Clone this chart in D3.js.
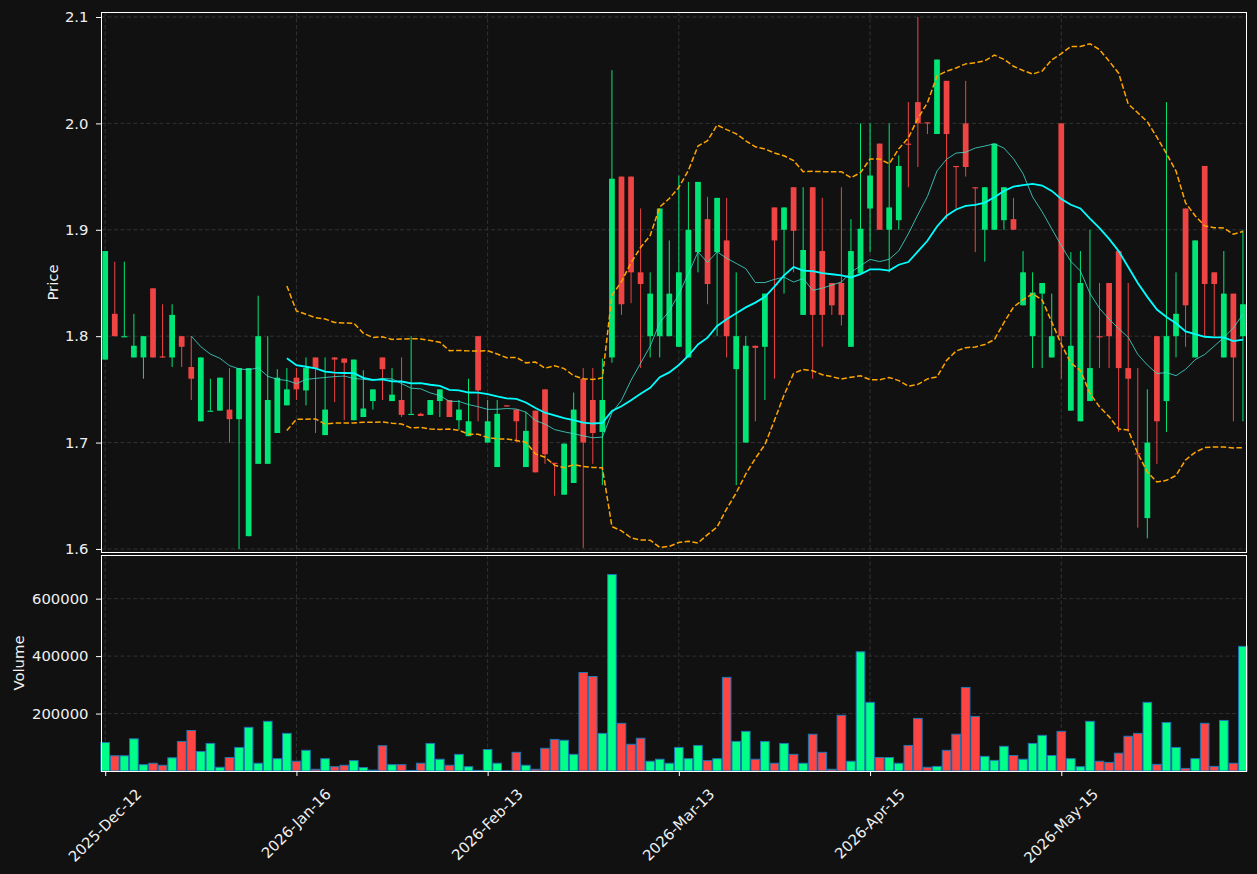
<!DOCTYPE html>
<html>
<head>
<meta charset="utf-8">
<script src="https://cdn.jsdelivr.net/npm/d3@7"></script>
<style>
  html, body { margin: 0; padding: 0; background: #111111; }
  svg { display: block; font-family: "DejaVu Sans", sans-serif; }
</style>
</head>
<body>
<svg id="chart" width="1257" height="874"></svg>
<script>
// ---- data -----------------------------------------------------------
const tickIdx    = [0, 20, 40, 60, 80, 100];
const tickLabels = ['2025-Dec-12', '2026-Jan-16', '2026-Feb-13', '2026-Mar-13', '2026-Apr-15', '2026-May-15'];

const opens = [
  1.778, 1.821, 1.800, 1.780, 1.780, 1.845, 1.781, 1.780, 1.800, 1.771,
  1.720, 1.730, 1.730, 1.731, 1.722, 1.612, 1.680, 1.680, 1.709, 1.735,
  1.761, 1.749, 1.780, 1.707, 1.780, 1.779, 1.721, 1.724, 1.739, 1.780,
  1.739, 1.740, 1.727, 1.727, 1.726, 1.739, 1.740, 1.721, 1.706, 1.800,
  1.700, 1.677, 1.735, 1.731, 1.677, 1.730, 1.750, 1.681, 1.651, 1.662,
  1.760, 1.740, 1.710, 1.780, 1.950, 1.950, 1.860, 1.800, 1.800, 1.800,
  1.790, 1.780, 1.879, 1.910, 1.879, 1.890, 1.769, 1.700, 1.791, 1.790,
  1.921, 1.900, 1.940, 1.820, 1.940, 1.880, 1.850, 1.850, 1.790, 1.859,
  1.920, 1.981, 1.900, 1.909, 1.981, 2.020, 2.001, 1.990, 2.040, 1.960,
  2.000, 1.940, 1.900, 1.900, 1.909, 1.910, 1.829, 1.800, 1.840, 1.780,
  2.000, 1.730, 1.720, 1.739, 1.800, 1.850, 1.880, 1.770, 1.690, 1.629,
  1.800, 1.739, 1.800, 1.920, 1.780, 1.960, 1.860, 1.780, 1.840, 1.800
];
const highs = [
  1.880, 1.870, 1.870, 1.821, 1.800, 1.845, 1.830, 1.830, 1.800, 1.800,
  1.780, 1.760, 1.761, 1.770, 1.770, 1.770, 1.838, 1.800, 1.769, 1.770,
  1.770, 1.780, 1.780, 1.780, 1.780, 1.779, 1.778, 1.768, 1.750, 1.780,
  1.770, 1.780, 1.800, 1.728, 1.740, 1.750, 1.740, 1.740, 1.760, 1.800,
  1.740, 1.740, 1.735, 1.731, 1.729, 1.730, 1.750, 1.681, 1.699, 1.747,
  1.770, 1.770, 1.779, 2.050, 1.950, 1.950, 1.920, 1.860, 1.920, 1.890,
  1.951, 1.945, 1.945, 1.931, 1.930, 1.930, 1.860, 1.800, 1.791, 1.840,
  1.921, 1.921, 1.940, 1.940, 1.940, 1.930, 1.850, 1.940, 1.910, 2.000,
  2.000, 1.981, 2.000, 1.970, 2.020, 2.100, 2.001, 2.060, 2.040, 1.960,
  2.040, 1.940, 1.940, 1.981, 1.940, 1.930, 1.880, 1.860, 1.850, 1.840,
  2.000, 1.879, 1.880, 1.900, 1.850, 1.850, 1.880, 1.850, 1.770, 1.750,
  1.800, 2.020, 1.860, 1.920, 1.890, 1.960, 1.860, 1.880, 1.840, 1.900
];
const lows = [
  1.778, 1.800, 1.800, 1.780, 1.760, 1.780, 1.780, 1.771, 1.771, 1.740,
  1.720, 1.730, 1.730, 1.700, 1.600, 1.612, 1.680, 1.680, 1.709, 1.735,
  1.740, 1.735, 1.709, 1.707, 1.738, 1.721, 1.721, 1.724, 1.731, 1.740,
  1.739, 1.724, 1.727, 1.725, 1.726, 1.724, 1.724, 1.712, 1.706, 1.720,
  1.700, 1.677, 1.734, 1.700, 1.677, 1.672, 1.680, 1.650, 1.651, 1.662,
  1.601, 1.680, 1.660, 1.775, 1.820, 1.831, 1.770, 1.780, 1.780, 1.800,
  1.790, 1.780, 1.860, 1.830, 1.800, 1.780, 1.660, 1.700, 1.720, 1.740,
  1.760, 1.840, 1.860, 1.820, 1.760, 1.790, 1.820, 1.810, 1.790, 1.859,
  1.879, 1.900, 1.860, 1.900, 1.940, 1.959, 1.990, 1.990, 1.910, 1.920,
  1.950, 1.879, 1.870, 1.900, 1.900, 1.900, 1.829, 1.770, 1.770, 1.780,
  1.760, 1.730, 1.720, 1.739, 1.770, 1.770, 1.710, 1.710, 1.620, 1.610,
  1.680, 1.710, 1.780, 1.790, 1.780, 1.800, 1.800, 1.780, 1.720, 1.720
];
const closes = [
  1.880, 1.800, 1.800, 1.791, 1.800, 1.780, 1.780, 1.820, 1.790, 1.760,
  1.780, 1.730, 1.761, 1.722, 1.770, 1.770, 1.800, 1.740, 1.761, 1.750,
  1.750, 1.770, 1.770, 1.731, 1.778, 1.775, 1.778, 1.732, 1.750, 1.769,
  1.745, 1.726, 1.727, 1.725, 1.740, 1.750, 1.724, 1.731, 1.720, 1.749,
  1.720, 1.727, 1.734, 1.720, 1.711, 1.672, 1.689, 1.680, 1.699, 1.731,
  1.700, 1.709, 1.740, 1.948, 1.830, 1.860, 1.849, 1.840, 1.920, 1.840,
  1.860, 1.900, 1.945, 1.849, 1.930, 1.800, 1.800, 1.791, 1.789, 1.840,
  1.890, 1.921, 1.899, 1.881, 1.820, 1.820, 1.829, 1.820, 1.880, 1.901,
  1.951, 1.900, 1.921, 1.960, 1.980, 2.000, 2.000, 2.060, 1.990, 1.959,
  1.959, 1.939, 1.940, 1.981, 1.940, 1.900, 1.860, 1.841, 1.850, 1.800,
  1.800, 1.791, 1.850, 1.770, 1.799, 1.800, 1.770, 1.760, 1.689, 1.700,
  1.720, 1.800, 1.821, 1.829, 1.890, 1.849, 1.849, 1.840, 1.780, 1.830
];
const volumes = [
   99000,  53000,  53000, 112000,  22000,  27000,  20000,  46000, 103000, 141000,
   68000,  96000,  13000,  47000,  82000, 152000,  27000, 173000,  43000, 131000,
   34000,  72000,   6000,  43000,  15000,  20000,  36000,  12000,   3000,  88000,
   22000,  22000,   2000,  27000,  96000,  41000,  20000,  58000,  15000,   2000,
   75000,  27000,   1000,  65000,  20000,   6000,  79000, 110000, 107000,  58000,
  343000, 329000, 131000, 684000, 166000,  93000, 114000,  34000,  41000,  27000,
   82000,  43000,  89000,  36000,  43000, 326000, 103000, 138000,  41000, 103000,
   27000,  96000,  58000,  27000, 128000,  65000,   6000, 194000,  34000, 415000,
  239000,  47000,  47000,  27000,  89000, 183000,  13000,  16000,  72000, 128000,
  291000, 190000,  51000,  37000,  86000,  54000,  41000,  96000, 124000,  54000,
  138000,  43000,  15000, 173000,  34000,  30000,  62000, 121000, 131000, 239000,
   23000, 169000,  82000,   9000,  43000, 166000,  16000, 176000,  27000, 434000
];

// ---- layout ----------------------------------------------------------
const W = 1257, H = 874;
const plotL = 101, plotR = 1246;
const priceTop = 12, priceBot = 553;
const volTop = 555, volBot = 771;
const FS = 14.8;

const UP = '#00e676', DOWN = '#ef4444';
const VOL_UP = '#00ff88', VOL_DOWN = '#ff4444';
const GRID = '#3a3a3a';
const TEXT = '#f0f0f0';

const svg = d3.select('#chart');
svg.append('rect').attr('width', W).attr('height', H).attr('fill', '#111111');

const x  = d3.scaleLinear().domain([-0.44, 119.32]).range([plotL, plotR]);
const yP = d3.scaleLinear().domain([1.5962, 2.1047]).range([priceBot, priceTop]);
const yV = d3.scaleLinear().domain([0, 752000]).range([volBot, volTop]);

const step = x(1) - x(0);

// ---- rolling indicators ---------------------------------------------
function sma(arr, n) {
  return arr.map((_, i) => i < n - 1 ? null : d3.mean(arr.slice(i - n + 1, i + 1)));
}
function band(arr, n, k) {
  return arr.map((_, i) => {
    if (i < n - 1) return null;
    const w = arr.slice(i - n + 1, i + 1);
    const m = d3.mean(w);
    const sd = Math.sqrt(d3.mean(w, v => (v - m) * (v - m)));
    return m + k * sd;
  });
}
const ma10 = sma(closes, 10);
const ma20 = sma(closes, 20);
const bbUp = band(closes, 20, 2);
const bbLo = band(closes, 20, -2);

// ---- grid ------------------------------------------------------------
const priceTicks = [1.6, 1.7, 1.8, 1.9, 2.0, 2.1];
const volTicks = [200000, 400000, 600000];

const grid = svg.append('g').attr('stroke', GRID).attr('stroke-width', 0.8).attr('stroke-dasharray', '4,2.5');
priceTicks.forEach(t => grid.append('line')
  .attr('x1', plotL).attr('x2', plotR).attr('y1', yP(t)).attr('y2', yP(t)));
volTicks.forEach(t => grid.append('line')
  .attr('x1', plotL).attr('x2', plotR).attr('y1', yV(t)).attr('y2', yV(t)));
tickIdx.forEach(t => {
  grid.append('line').attr('x1', x(t)).attr('x2', x(t)).attr('y1', priceTop).attr('y2', priceBot);
  grid.append('line').attr('x1', x(t)).attr('x2', x(t)).attr('y1', volTop).attr('y2', volBot);
});

// ---- candles ---------------------------------------------------------
const candles = svg.append('g');
const bodyW = step * 0.6;
opens.forEach((o, i) => {
  const c = closes[i];
  const col = c >= o ? UP : DOWN;
  candles.append('line')
    .attr('x1', x(i)).attr('x2', x(i))
    .attr('y1', yP(highs[i])).attr('y2', yP(lows[i]))
    .attr('stroke', col).attr('stroke-width', 1);
  const top = yP(Math.max(o, c));
  const h = Math.max(1.2, Math.abs(yP(o) - yP(c)));
  candles.append('rect')
    .attr('x', x(i) - bodyW / 2).attr('y', top)
    .attr('width', bodyW).attr('height', h)
    .attr('fill', col);
});

// ---- indicator lines -------------------------------------------------
const line = d3.line().defined(d => d != null).x((d, i) => x(i)).y(d => yP(d));
svg.append('path').datum(bbUp).attr('d', line).attr('fill', 'none')
  .attr('stroke', '#ffa500').attr('stroke-width', 1.5).attr('stroke-dasharray', '5.5,2.4');
svg.append('path').datum(bbLo).attr('d', line).attr('fill', 'none')
  .attr('stroke', '#ffa500').attr('stroke-width', 1.5).attr('stroke-dasharray', '5.5,2.4');
svg.append('path').datum(ma10).attr('d', line).attr('fill', 'none')
  .attr('stroke', '#40e0d0').attr('stroke-opacity', 0.8).attr('stroke-width', 1);
svg.append('path').datum(ma20).attr('d', line).attr('fill', 'none')
  .attr('stroke', '#00ffff').attr('stroke-width', 1.8);

// ---- volume ----------------------------------------------------------
const volW = step * 0.9;
svg.append('g').selectAll('rect').data(volumes).enter().append('rect')
  .attr('x', (d, i) => x(i) - volW / 2)
  .attr('y', d => yV(d))
  .attr('width', volW)
  .attr('height', d => yV(0) - yV(d))
  .attr('fill', (d, i) => closes[i] >= opens[i] ? VOL_UP : VOL_DOWN)
  .attr('stroke', '#1f77b4').attr('stroke-width', 1);

// ---- spines (crisp, on half pixels) ---------------------------------
[[priceTop, priceBot - 1], [volTop, volBot]].forEach(([t, b]) => {
  svg.append('rect').attr('x', plotL + 0.5).attr('y', t + 0.5)
    .attr('width', plotR - plotL).attr('height', b - t)
    .attr('fill', 'none').attr('stroke', '#ffffff').attr('stroke-width', 1);
});

// ---- axes ------------------------------------------------------------
function styleAxis(g) {
  g.select('.domain').remove();
  g.selectAll('.tick line').attr('stroke', '#ffffff');
  g.selectAll('.tick text').attr('fill', TEXT).style('font-size', FS + 'px')
    .style('font-family', '"DejaVu Sans", sans-serif');
}

svg.append('g').attr('transform', `translate(${plotL},0)`)
  .call(d3.axisLeft(yP).tickValues(priceTicks).tickFormat(d3.format('.1f')).tickSize(5).tickPadding(7.5))
  .call(styleAxis);

svg.append('g').attr('transform', `translate(${plotL},0)`)
  .call(d3.axisLeft(yV).tickValues(volTicks).tickFormat(d3.format('d')).tickSize(5).tickPadding(7.5))
  .call(styleAxis);

const xAxis = svg.append('g').attr('transform', `translate(0,${volBot})`)
  .call(d3.axisBottom(x).tickValues(tickIdx).tickFormat((d, i) => tickLabels[i]).tickSize(5))
  .call(styleAxis);
xAxis.selectAll('.tick text').each(function () {
  const t = d3.select(this);
  const len = this.getComputedTextLength();
  const half = (len + FS) * Math.SQRT1_2 / 2;
  t.attr('y', null).attr('dy', null)
    .attr('text-anchor', 'middle')
    .attr('dominant-baseline', 'central')
    .attr('transform', `translate(-1,${15 + half}) rotate(-45)`);
});

// axis titles
svg.append('text').attr('transform', `translate(52,${(priceTop + priceBot) / 2}) rotate(-90)`)
  .attr('text-anchor', 'middle').attr('dominant-baseline', 'central')
  .attr('fill', TEXT).style('font-size', FS + 'px').text('Price');
svg.append('text').attr('transform', `translate(18,${(volTop + volBot) / 2}) rotate(-90)`)
  .attr('text-anchor', 'middle').attr('dominant-baseline', 'central')
  .attr('fill', TEXT).style('font-size', FS + 'px').text('Volume');
</script>
</body>
</html>
